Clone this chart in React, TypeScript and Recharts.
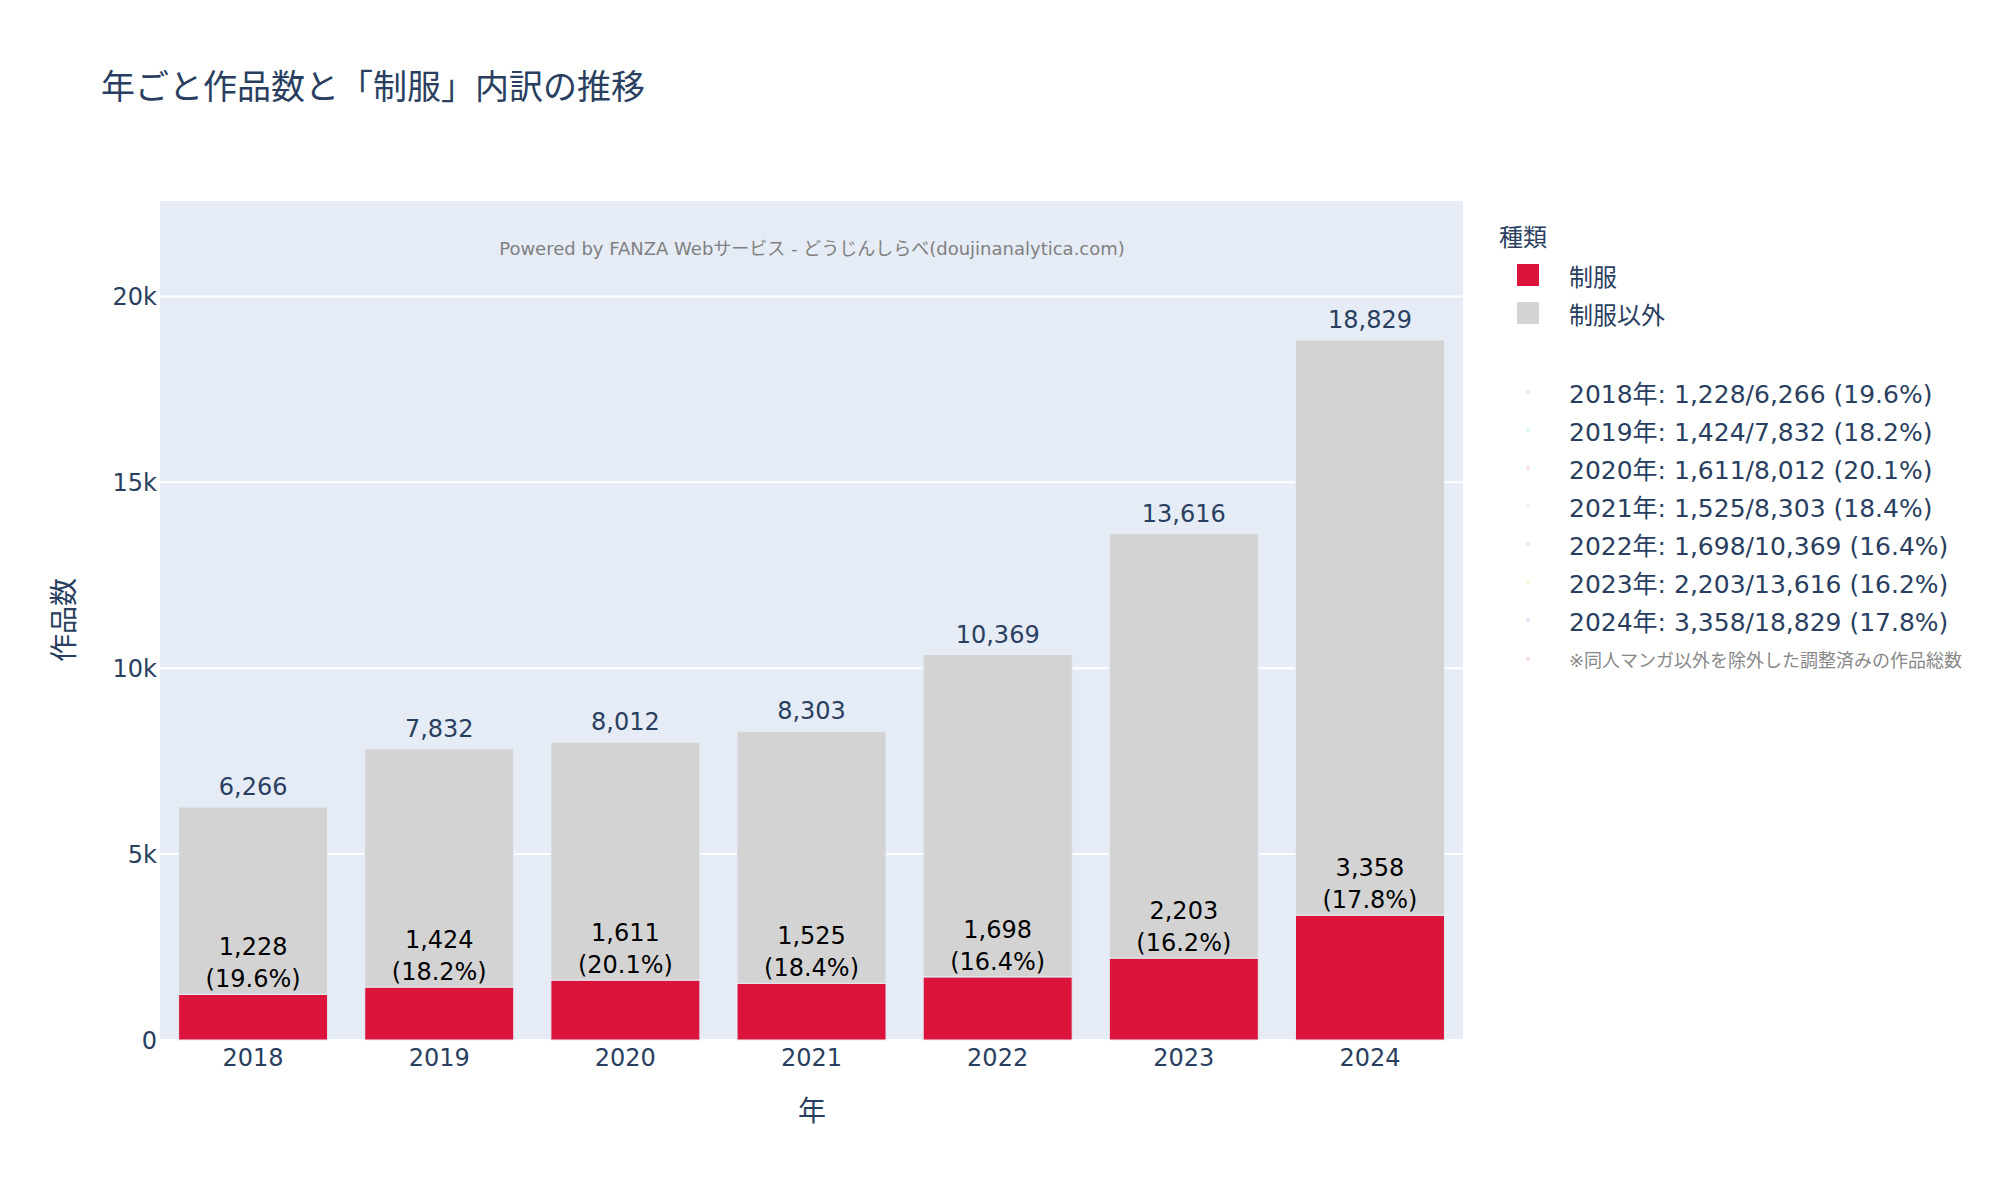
import React from "react";
import { BarChart, Bar, XAxis, YAxis, CartesianGrid, Legend, LabelList } from "recharts";

const years = ["2018", "2019", "2020", "2021", "2022", "2023", "2024"];
const uniformCounts = [1228, 1424, 1611, 1525, 1698, 2203, 3358];
const totalCounts = [6266, 7832, 8012, 8303, 10369, 13616, 18829];
const uniformPercents = ["19.6", "18.2", "20.1", "18.4", "16.4", "16.2", "17.8"];
const yTicks = [0, 5000, 10000, 15000, 20000];

const FONT = "'DejaVu Sans', Verdana, 'Noto Sans CJK JP', sans-serif";
const INK = "#2a3f5f";
const RED = "#DC143C";
const GRAY = "#D3D3D3";
const DOT_COLORS = ["#fde2d6", "#d6f4fb", "#fde0e8", "#e3f6df", "#f5e1f7", "#fcf3d8", "#e1e1fb"];
const NOTE_DOT = "#fbd9d9";

const data = years.map((year, i) => ({
  year,
  uniform: uniformCounts[i],
  other: totalCounts[i] - uniformCounts[i],
  total: totalCounts[i],
}));

const fmt = (v: number) => v.toLocaleString("en-US");

function box(props: any) {
  const vb = props.viewBox && props.viewBox.width !== undefined ? props.viewBox : props;
  const x = Number(vb.x);
  const y = Number(vb.y);
  const w = Number(vb.width);
  const h = Number(vb.height);
  return { x, w, top: Math.min(y, y + h), bottom: Math.max(y, y + h) };
}

function TotalLabel(props: any) {
  const { x, w, top } = box(props);
  return (
    <text x={x + w / 2} y={top - 12} textAnchor="middle" fill={INK} fontSize={24} fontFamily={FONT}>
      {fmt(props.value)}
    </text>
  );
}

function UniformLabel(props: any) {
  const { x, w, bottom } = box(props);
  const pct = uniformPercents[props.index];
  return (
    <text x={x + w / 2} y={bottom - 39} textAnchor="middle" fill="#000" fontSize={24} fontFamily={FONT}>
      <tspan x={x + w / 2}>{fmt(props.value)}</tspan>
      <tspan x={x + w / 2} dy={32}>
        ({pct}%)
      </tspan>
    </text>
  );
}

function LegendBox(props: any) {
  const row = (top: number, children: React.ReactNode, key: string) => (
    <div key={key} style={{ position: "absolute", left: 0, top: top - 19, height: 38, width: 520, display: "flex", alignItems: "center" }}>
      {children}
    </div>
  );
  const series = (props.payload || []).filter((p: any) => p.dataKey === "uniform" || p.dataKey === "other");
  return (
    <div style={{ position: "relative", width: 520, height: 500, fontFamily: FONT, color: INK }}>
      {row(38, <span style={{ marginLeft: 9, fontSize: 24 }}>種類</span>, "title")}
      {series.map((p: any, i: number) =>
        row(
          78 + i * 38,
          <>
            <span style={{ marginLeft: 27, width: 22, height: 22, background: p.color, display: "inline-block" }} />
            <span style={{ marginLeft: 30, fontSize: 24 }}>{p.value}</span>
          </>,
          "s" + i
        )
      )}
      {years.map((y, i) =>
        row(
          195 + i * 38,
          <>
            <span style={{ marginLeft: 36, width: 4, height: 4, borderRadius: 2, background: DOT_COLORS[i], display: "inline-block" }} />
            <span style={{ marginLeft: 39, fontSize: 25 }}>
              {`${y}年: ${fmt(uniformCounts[i])}/${fmt(totalCounts[i])} (${uniformPercents[i]}%)`}
            </span>
          </>,
          "y" + i
        )
      )}
      {row(
        462,
        <>
          <span style={{ marginLeft: 36, width: 4, height: 4, borderRadius: 2, background: NOTE_DOT, display: "inline-block" }} />
          <span style={{ marginLeft: 39, fontSize: 18, color: "#888" }}>※同人マンガ以外を除外した調整済みの作品総数</span>
        </>,
        "note"
      )}
    </div>
  );
}

export default function App() {
  const yMax = Math.max(...totalCounts) * 1.2;
  return (
    <div style={{ position: "absolute", left: 0, top: 0, width: 2000, height: 1200, background: "#fff", fontFamily: FONT }}>
      <BarChart
        width={2000}
        height={1200}
        data={data}
        margin={{ top: 200, right: 537, bottom: 100, left: 100 }}
        barCategoryGap="10%"
      >
        <CartesianGrid vertical={false} fill="#E5ECF6" stroke="#ffffff" strokeWidth={2} />
        <XAxis
          dataKey="year"
          height={60}
          axisLine={false}
          tickLine={false}
          tickSize={0}
          tickMargin={9}
          tick={{ fill: INK, fontSize: 24, fontFamily: FONT }}
        />
        <YAxis
          width={60}
          domain={[0, yMax]}
          ticks={yTicks}
          axisLine={false}
          tickLine={false}
          tickSize={0}
          tickMargin={3}
          tickFormatter={(v: number) => (v === 0 ? "0" : `${v / 1000}k`)}
          tick={{ fill: INK, fontSize: 24, fontFamily: FONT }}
        />
        <Legend
          layout="vertical"
          align="center"
          verticalAlign="middle"
          wrapperStyle={{ left: 1490, top: 197, width: 520 }}
          content={<LegendBox />}
        />
        <Bar dataKey="uniform" name="制服" stackId="a" fill={RED} stroke="#E5ECF6" strokeWidth={1} isAnimationActive={false} />
        <Bar dataKey="other" name="制服以外" stackId="a" fill={GRAY} stroke="#E5ECF6" strokeWidth={1} isAnimationActive={false}>
          <LabelList dataKey="total" content={<TotalLabel />} />
          <LabelList dataKey="uniform" content={<UniformLabel />} />
        </Bar>
      </BarChart>

      <div style={{ position: "absolute", left: 101, top: 66, height: 42, lineHeight: "42px", fontSize: 34, color: INK, whiteSpace: "nowrap" }}>
        年ごと作品数と「制服」内訳の推移
      </div>
      <div
        style={{
          position: "absolute",
          left: 812,
          top: 247,
          transform: "translate(-50%, -50%)",
          fontSize: 18,
          color: "#808080",
          whiteSpace: "nowrap",
        }}
      >
        Powered by FANZA Webサービス - どうじんしらべ(doujinanalytica.com)
      </div>
      <div
        style={{
          position: "absolute",
          left: 62,
          top: 620,
          transform: "translate(-50%, -50%) rotate(-90deg)",
          fontSize: 28,
          color: INK,
          whiteSpace: "nowrap",
        }}
      >
        作品数
      </div>
      <div
        style={{
          position: "absolute",
          left: 812,
          top: 1109,
          transform: "translate(-50%, -50%)",
          fontSize: 28,
          color: INK,
          whiteSpace: "nowrap",
        }}
      >
        年
      </div>
    </div>
  );
}
